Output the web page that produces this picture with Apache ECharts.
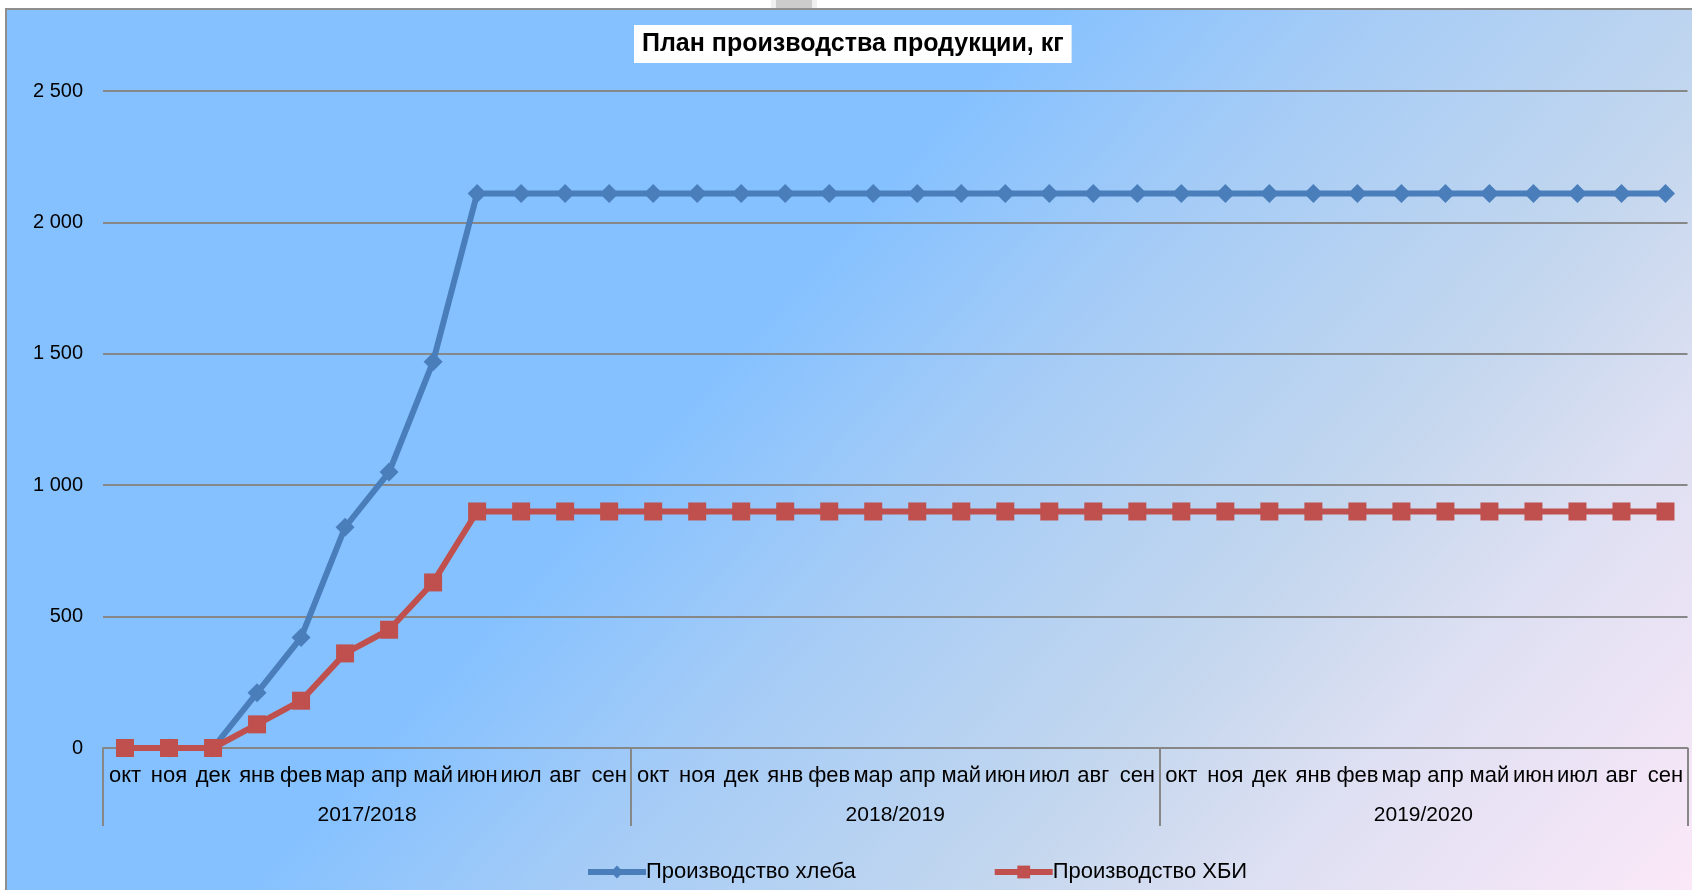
<!DOCTYPE html>
<html>
<head>
<meta charset="utf-8">
<style>
html,body{margin:0;padding:0;background:#fff;}
#c{width:1692px;height:890px;}
</style>
<script src="https://cdn.jsdelivr.net/npm/echarts@6/dist/echarts.min.js"></script>
</head>
<body>
<div id="c"></div>
<script>
const monthNames = ['окт','ноя','дек','янв','фев','мар','апр','май','июн','июл','авг','сен'];
const years = ['2017/2018','2018/2019','2019/2020'];
const categories = [].concat(monthNames, monthNames, monthNames);
const breadSeries = [0,0,0,210,420,840,1050,1470,2110,2110,2110,2110,
                     2110,2110,2110,2110,2110,2110,2110,2110,2110,2110,2110,2110,
                     2110,2110,2110,2110,2110,2110,2110,2110,2110,2110,2110,2110];
const hbiSeries = [0,0,0,90,180,360,450,630,900,900,900,900,
                   900,900,900,900,900,900,900,900,900,900,900,900,
                   900,900,900,900,900,900,900,900,900,900,900,900];
const yTicks = {min:0, max:2500, interval:500};
const seriesNames = ['Производство хлеба','Производство ХБИ'];
const titleText = 'План производства продукции, кг';

const FONT = '"Liberation Sans", Arial, sans-serif';
const chart = echarts.init(document.getElementById('c'), null, {renderer:'canvas'});
const grey = '#878787';
chart.setOption({
  animation:false,
  textStyle:{fontFamily:FONT},
  graphic:[
    {type:'rect', z:-10, silent:true,
     shape:{x:6, y:9, width:1700, height:890},
     style:{
       fill:{type:'linear', global:true, x:578, y:521, x2:1377, y2:1242,
         colorStops:[
           {offset:0, color:'#85C1FF'},
           {offset:0.23, color:'#A6CCF6'},
           {offset:0.52, color:'#C4D7EE'},
           {offset:0.68, color:'#DCDFF2'},
           {offset:1, color:'#FBE8F8'}
         ]},
       stroke:'#8E8E8E', lineWidth:2
     }},
    {type:'rect', z:-9, silent:true, shape:{x:771, y:0, width:46, height:8}, style:{fill:'#EFEFEF'}},
    {type:'rect', z:-8, silent:true, shape:{x:776, y:0, width:36, height:8}, style:{fill:'#CCCCCC'}}
  ],
  title:{
    text:titleText,
    left:634, top:25,
    backgroundColor:'#FFFFFF',
    padding:[6,8,6,8],
    textStyle:{fontFamily:FONT, fontSize:25, fontWeight:'bold', color:'#000', lineHeight:26}
  },
  legend:{
    left:580, top:856,
    itemWidth:58, itemHeight:16, itemGap:136,
    lineStyle:{width:6},
    textStyle:{fontFamily:FONT, fontSize:22, color:'#000', padding:[0,0,0,-5]},
    data:seriesNames
  },
  grid:{left:103, right:4.5, top:91, bottom:142, containLabel:false},
  xAxis:[
    {type:'category', data:categories, position:'bottom',
     axisLine:{show:true, lineStyle:{color:grey, width:2}},
     axisTick:{show:false},
     axisLabel:{interval:0, margin:17, fontFamily:FONT, fontSize:22, color:'#000'}},
    {type:'category', data:years, position:'bottom', gridIndex:0,
     axisLine:{show:false},
     axisTick:{show:true, length:78, interval:0, lineStyle:{color:grey, width:2}},
     axisLabel:{interval:0, margin:57, fontFamily:FONT, fontSize:21, color:'#000'},
     splitLine:{show:false}}
  ],
  yAxis:{
    type:'value', min:yTicks.min, max:yTicks.max, interval:yTicks.interval,
    axisLine:{show:false}, axisTick:{show:false},
    axisLabel:{margin:20, fontFamily:FONT, fontSize:20, color:'#000',
      formatter:v=>String(v).replace(/\B(?=(\d{3})+(?!\d))/g,' ')},
    splitLine:{lineStyle:{color:grey, width:2}}
  },
  series:[
    {name:seriesNames[0], type:'line', data:breadSeries, xAxisIndex:0,
     symbol:'diamond', symbolSize:19,
     lineStyle:{color:'#4A7EBB', width:6},
     itemStyle:{color:'#4A7EBB'}},
    {name:seriesNames[1], type:'line', data:hbiSeries, xAxisIndex:0,
     symbol:'rect', symbolSize:18,
     lineStyle:{color:'#C0504D', width:6},
     itemStyle:{color:'#C0504D'}}
  ]
});
</script>
</body>
</html>
